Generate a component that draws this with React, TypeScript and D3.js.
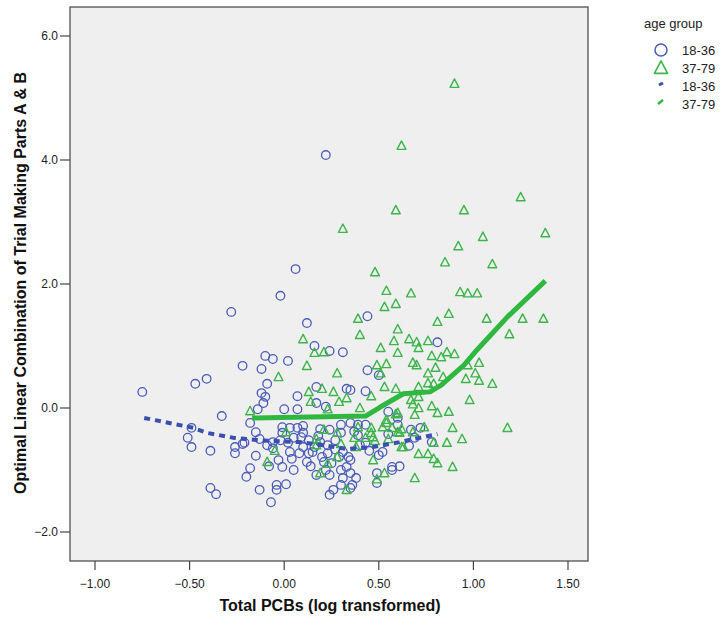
import * as d3 from 'd3';

// age group 18-36 (circles)
const youngPoints: [number, number][] = [
  [-0.75, 0.26], [-0.47, 0.39], [-0.41, 0.47], [-0.33, -0.13], [-0.49, -0.32], [-0.51, -0.48],
  [-0.49, -0.63], [-0.39, -0.69], [-0.26, -0.63], [-0.26, -0.73], [-0.22, -0.58], [-0.18, -0.24],
  [-0.18, -0.97], [-0.2, -1.11], [-0.39, -1.29], [-0.36, -1.39], [-0.28, 1.55], [0.06, 2.24],
  [-0.02, 1.81], [0.12, 1.37], [0.22, 4.08], [-0.22, 0.68], [-0.12, 0.63], [-0.1, 0.84],
  [-0.06, 0.79], [0.02, 0.76], [-0.09, 0.39], [-0.12, 0.24], [-0.1, 0.18], [-0.11, 0.08],
  [-0.14, -0.02], [0.16, 1.0], [0.24, 0.92], [0.31, 0.9], [0.07, 0.19], [0.17, 0.34],
  [0.33, 0.31], [0.17, 0.08], [0.07, -0.02], [0.0, -0.02], [0.22, 0.02], [0.44, 1.48],
  [0.81, 1.06], [0.44, 0.61], [0.5, 0.53], [0.43, 0.27], [0.35, 0.29], [0.55, -0.06],
  [0.6, -0.16], [-0.15, -0.39], [-0.13, -0.5], [-0.06, -0.55], [-0.06, -0.65], [-0.01, -0.31],
  [-0.01, -0.4], [0.03, -0.32], [0.1, -0.29], [0.1, -0.4], [0.05, -0.48], [0.03, -0.71],
  [0.04, -0.82], [0.05, -1.0], [-0.01, -0.95], [-0.08, -0.94], [-0.15, -0.77], [-0.13, -1.32],
  [-0.04, -1.24], [-0.04, -1.32], [0.01, -1.23], [-0.07, -1.52], [0.12, -0.87], [0.13, -0.73],
  [0.1, -0.63], [0.16, -0.63], [0.19, -0.55], [0.23, -0.6], [0.19, -0.34], [0.24, -0.35],
  [0.3, -0.27], [0.35, -0.24], [0.39, -0.27], [0.3, -0.4], [0.25, -0.89], [0.22, -1.0],
  [0.24, -1.08], [0.17, -1.08], [0.3, -1.0], [0.31, -1.13], [0.35, -1.05], [0.38, -1.13],
  [0.33, -0.95], [0.26, -1.32], [0.24, -1.4], [0.3, -1.24], [0.36, -1.24], [0.31, -0.71],
  [0.34, -0.79], [0.29, -0.79], [0.23, -0.73], [0.39, -0.44], [0.43, -0.27], [0.4, -0.6],
  [0.43, -0.56], [0.52, -0.71], [0.5, -0.76], [0.6, -0.27], [0.67, -0.35], [0.72, -0.32],
  [0.78, -0.55], [0.66, -0.61], [0.57, -0.95], [0.57, -1.0], [0.61, -0.94], [0.49, -1.05],
  [0.49, -1.21], [0.35, -1.29], [0.35, -0.84], [-0.21, -0.56], [0.15, -0.71], [0.2, -0.79],
  [0.08, -0.73], [0.13, -0.52], [0.07, -0.32], [-0.02, -0.52], [0.02, -0.56],
  [0.09, -0.47], [0.18, -0.45], [0.27, -0.52], [0.21, -0.87], [0.14, -0.94], [-0.03, -0.84],
  [0.37, -0.38], [0.45, -0.69], [0.55, -0.42], [0.69, -0.48], [0.27, -0.67], [-0.09, -0.6],
];

// age group 37-79 (triangles)
const olderPoints: [number, number][] = [
  [0.9, 5.23], [0.62, 4.23], [1.25, 3.4], [0.59, 3.19], [0.95, 3.19], [0.31, 2.89],
  [1.05, 2.76], [1.38, 2.82], [0.92, 2.61], [0.85, 2.35], [1.1, 2.32], [0.48, 2.19],
  [0.54, 1.89], [0.67, 1.85], [0.93, 1.87], [0.97, 1.85], [1.02, 1.85], [0.53, 1.63],
  [0.59, 1.68], [0.87, 1.52], [0.81, 1.39], [1.07, 1.44], [1.26, 1.44], [1.37, 1.44],
  [0.6, 1.27], [1.19, 1.19], [0.58, 1.08], [0.66, 1.11], [0.7, 1.06], [0.76, 1.08],
  [0.71, 0.97], [0.6, 0.89], [0.78, 0.84], [0.83, 0.82], [0.86, 0.9], [0.9, 0.87],
  [0.54, 0.71], [0.68, 0.73], [0.7, 0.69], [0.8, 0.65], [1.03, 0.73], [0.97, 0.69],
  [1.01, 0.56], [0.96, 0.47], [1.03, 0.44], [1.1, 0.39], [0.84, 0.5], [0.76, 0.56],
  [0.76, 0.4], [0.79, 0.39], [0.71, 0.34], [0.53, 0.34], [0.59, 0.31], [0.98, 0.13],
  [0.68, 0.06], [0.69, -0.11], [0.78, 0.03], [0.81, -0.08], [0.87, -0.06], [1.18, -0.32],
  [0.89, -0.32], [0.94, -0.5], [0.86, -0.56], [0.71, -0.74], [0.76, -0.74], [0.79, -0.82],
  [0.89, -0.95], [0.6, -0.08], [0.54, -0.19], [0.6, -0.39], [0.63, -0.63], [0.4, 1.18],
  [0.51, 0.97], [0.49, 0.69], [0.51, 0.56], [0.67, 0.13], [0.71, 0.18], [0.4, 0.0],
  [0.59, -0.1], [0.71, 0.0], [0.46, 0.19], [0.1, 1.11], [0.16, 0.89], [0.21, 0.9],
  [0.39, 1.44], [0.12, 0.68], [0.28, 0.56], [-0.03, 0.5], [0.13, 0.26], [0.2, 0.31],
  [0.26, 0.26], [0.29, 0.1], [0.33, 0.16], [0.14, 0.1], [-0.18, -0.05], [0.23, -0.02],
  [0.01, -0.39], [-0.05, -0.69], [-0.09, -0.87], [0.17, -0.5], [0.21, -0.35], [0.28, -0.4],
  [0.3, -0.58], [0.37, -0.48], [0.38, -0.63], [0.39, -0.31], [0.28, -0.79], [0.23, -0.9],
  [0.19, -1.05], [0.33, -1.32], [0.17, -0.6], [0.47, -0.84], [0.53, -1.05], [0.49, -1.15],
  [0.46, -0.32], [0.47, -0.47], [0.52, -0.31], [0.57, -0.32], [0.43, -0.48], [0.46, -0.4],
  [0.54, -0.24], [0.61, -0.4], [0.62, -0.34], [0.68, -0.39], [0.74, -0.31], [0.62, -0.63],
  [0.55, -0.5], [0.48, -0.53], [0.81, -0.89], [0.69, -1.13], [0.79, -0.56],
];

// loess fit lines
const youngFit: [number, number][] = [
  [-0.74, -0.16], [-0.48, -0.32], [-0.41, -0.4], [-0.27, -0.48], [-0.13, -0.52], [0.08, -0.55],
  [0.23, -0.61], [0.33, -0.66], [0.47, -0.63], [0.61, -0.55], [0.81, -0.42],
];
const olderFit: [number, number][] = [
  [-0.17, -0.16], [0.43, -0.13], [0.51, 0.02], [0.63, 0.23], [0.77, 0.26], [0.83, 0.37],
  [0.95, 0.69], [1.02, 0.94], [1.18, 1.47], [1.38, 2.05],
];

const xTicks = [-1, -0.5, 0, 0.5, 1, 1.5];
const yTicks = [-2, 0, 2, 4, 6];
const groups = ['18-36', '37-79'];

const blue = '#4a5cb8';
const green = '#3cb54a';
const blueLine = '#3a4fae';
const greenLine = '#2fb83f';
const font = 'Arial, "Liberation Sans", sans-serif';

const triPath = (cx: number, cy: number, s: number) =>
  `M${cx},${cy - s * 0.6}L${cx + s * 0.55},${cy + s * 0.45}L${cx - s * 0.55},${cy + s * 0.45}Z`;

export default function App() {
  const plot = { left: 70, right: 588, top: 7, bottom: 561 };
  const x = d3.scaleLinear().domain([-1, 1.5]).range([95, 568]);
  const y = d3.scaleLinear().domain([-2, 6]).range([532, 36]);
  const line = d3.line<[number, number]>().x(d => x(d[0])).y(d => y(d[1]));

  return (
    <svg width={723} height={624} style={{ position: 'absolute', left: 0, top: 0, background: '#fff' }} fontFamily={font}>
      <rect x={plot.left} y={plot.top} width={plot.right - plot.left} height={plot.bottom - plot.top} fill="#efefef" />

      {youngPoints.map((d, i) => (
        <circle key={'c' + i} cx={x(d[0])} cy={y(d[1])} r={4.3} fill="none" stroke={blue} strokeWidth={1.3} />
      ))}
      {olderPoints.map((d, i) => (
        <path key={'t' + i} d={triPath(x(d[0]), y(d[1]), 8)} fill="none" stroke={green} strokeWidth={1.4} strokeLinejoin="round" />
      ))}

      <path d={line(olderFit) || ''} fill="none" stroke={greenLine} strokeWidth={5} strokeLinejoin="round" />
      <path d={line(youngFit) || ''} fill="none" stroke={blueLine} strokeWidth={4} strokeDasharray="6,5" />

      <rect x={plot.left} y={plot.top} width={plot.right - plot.left} height={plot.bottom - plot.top} fill="none" stroke="#444" strokeWidth={1.2} />

      {xTicks.map(t => (
        <g key={'x' + t}>
          <line x1={x(t)} x2={x(t)} y1={plot.bottom} y2={plot.bottom + 9} stroke="#444" strokeWidth={1.2} />
          <text x={x(t)} y={plot.bottom + 27} textAnchor="middle" fontSize={12} fill="#222">{d3.format('.2f')(t)}</text>
        </g>
      ))}
      {yTicks.map(t => (
        <g key={'y' + t}>
          <line x1={plot.left - 10} x2={plot.left} y1={y(t)} y2={y(t)} stroke="#444" strokeWidth={1.2} />
          <text x={plot.left - 12} y={y(t) + 4} textAnchor="end" fontSize={12} fill="#222">{d3.format('.1f')(t)}</text>
        </g>
      ))}

      <text x={330} y={611} textAnchor="middle" fontSize={16} fontWeight="bold" fill="#111">Total PCBs (log transformed)</text>
      <text transform="translate(26,283) rotate(-90)" textAnchor="middle" fontSize={16} fontWeight="bold" fill="#111">
        Optimal Linear Combination of Trial Making Parts A &amp; B
      </text>

      <g fontSize={13} fill="#222">
        <text x={644} y={28}>age group</text>
        <circle cx={661} cy={50} r={6} fill="none" stroke={blue} strokeWidth={1.5} />
        <text x={682} y={55}>{groups[0]}</text>
        <path d={triPath(661, 68, 12)} fill="none" stroke={green} strokeWidth={1.6} strokeLinejoin="round" />
        <text x={682} y={73}>{groups[1]}</text>
        <line x1={659} y1={85} x2={663} y2={83} stroke={blueLine} strokeWidth={3} />
        <text x={682} y={91}>{groups[0]}</text>
        <line x1={658} y1={104} x2={663} y2={100} stroke={greenLine} strokeWidth={2.5} />
        <text x={682} y={109}>{groups[1]}</text>
      </g>
    </svg>
  );
}
